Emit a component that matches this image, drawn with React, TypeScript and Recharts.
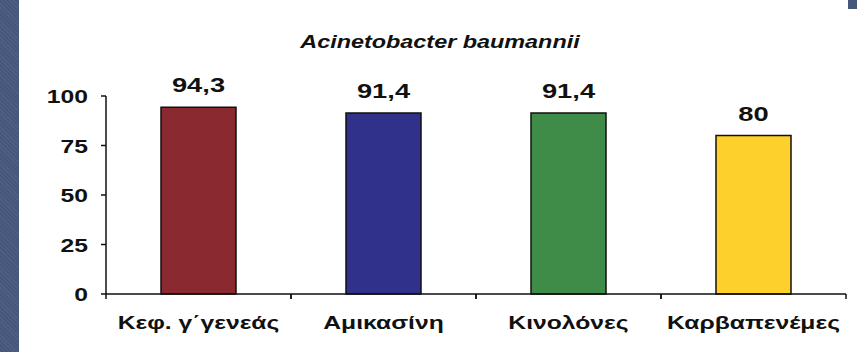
import React from 'react';
import { BarChart, Bar, XAxis, YAxis, Cell, LabelList } from 'recharts';

// Resistance (%) of Acinetobacter baumannii by antibiotic class
const categories = ['Κεφ. γ΄γενεάς', 'Αμικασίνη', 'Κινολόνες', 'Καρβαπενέμες'];
const resistance = [94.3, 91.4, 91.4, 80];
const barColors = ['#8a2a30', '#2f318a', '#3e8c48', '#fdd02b'];
const yTicks = [0, 25, 50, 75, 100];
const title = 'Acinetobacter baumannii';

const data = categories.map((name, i) => ({ name, value: resistance[i] }));

const W = 857;
const H = 352;
const X_AXIS_H = 30;
const MARGIN = { top: 96, right: 11, bottom: 58 - X_AXIS_H, left: 0 };
const Y_AXIS_W = 106;
const HALF_BAND = (W - MARGIN.left - MARGIN.right - Y_AXIS_W) / categories.length / 2;

const FONT = "Arial, 'Liberation Sans', Helvetica, sans-serif";
const STRETCH = 1.3;
const INK = '#111';

const Stretched = ({ x, y, anchor, size, children, italic }: any) => (
  <text
    transform={`translate(${x},${y}) scale(${STRETCH},1)`}
    textAnchor={anchor}
    fontFamily={FONT}
    fontWeight="bold"
    fontStyle={italic ? 'italic' : 'normal'}
    fontSize={size}
    fill={INK}
  >
    {children}
  </text>
);

const CategoryTick = (props: any) => {
  const { x, y, payload } = props;
  return (
    <g>
      <line x1={x - HALF_BAND} y1={y} x2={x - HALF_BAND} y2={y + 5} stroke={INK} strokeWidth={1.5} />
      <line x1={x + HALF_BAND} y1={y} x2={x + HALF_BAND} y2={y + 5} stroke={INK} strokeWidth={1.5} />
      <Stretched x={x} y={y + 35} anchor="middle" size={19}>
        {payload.value}
      </Stretched>
    </g>
  );
};

const ValueTick = (props: any) => {
  const { x, y, payload } = props;
  return (
    <g>
      <line x1={x - 5} y1={y} x2={x} y2={y} stroke={INK} strokeWidth={1.5} />
      <Stretched x={x - 18} y={y + 7} anchor="end" size={19}>
        {payload.value}
      </Stretched>
    </g>
  );
};

const BarValue = (props: any) => {
  const { x, y, width, value } = props;
  return (
    <Stretched x={x + width / 2} y={y - 15} anchor="middle" size={21}>
      {String(value).replace('.', ',')}
    </Stretched>
  );
};

export default function App() {
  return (
    <div
      style={{
        position: 'absolute',
        left: 0,
        top: 0,
        width: W,
        height: H,
        background: '#fff',
        overflow: 'hidden',
      }}
    >
      {/* slide frame: textured strip on the left, small block top-right */}
      <div
        style={{
          position: 'absolute',
          left: 0,
          top: 0,
          width: 19,
          height: H,
          backgroundColor: '#47567b',
          backgroundImage:
            'repeating-linear-gradient(45deg, rgba(255,255,255,0.05) 0 1px, transparent 1px 3px)',
        }}
      />
      <div
        style={{
          position: 'absolute',
          left: 848,
          top: 0,
          width: 9,
          height: 9,
          backgroundColor: '#47567b',
        }}
      />
      <svg style={{ position: 'absolute', left: 0, top: 0 }} width={W} height={60}>
        <Stretched x={440} y={48} anchor="middle" size={18} italic>
          {title}
        </Stretched>
      </svg>
      <div style={{ position: 'absolute', left: 0, top: 0 }}>
        <BarChart width={W} height={H} data={data} margin={MARGIN}>
          <XAxis
            dataKey="name"
            height={X_AXIS_H}
            interval={0}
            tickLine={false}
            tickSize={0}
            tickMargin={0}
            axisLine={{ stroke: INK, strokeWidth: 1.5 }}
            tick={<CategoryTick />}
          />
          <YAxis
            width={Y_AXIS_W}
            domain={[0, 100]}
            ticks={yTicks}
            interval={0}
            tickLine={false}
            tickSize={0}
            tickMargin={0}
            axisLine={{ stroke: INK, strokeWidth: 1.5 }}
            tick={<ValueTick />}
          />
          <Bar dataKey="value" barSize={75} stroke={INK} strokeWidth={1.5} isAnimationActive={false}>
            {data.map((d, i) => (
              <Cell key={d.name} fill={barColors[i]} />
            ))}
            <LabelList dataKey="value" content={<BarValue />} />
          </Bar>
        </BarChart>
      </div>
    </div>
  );
}
